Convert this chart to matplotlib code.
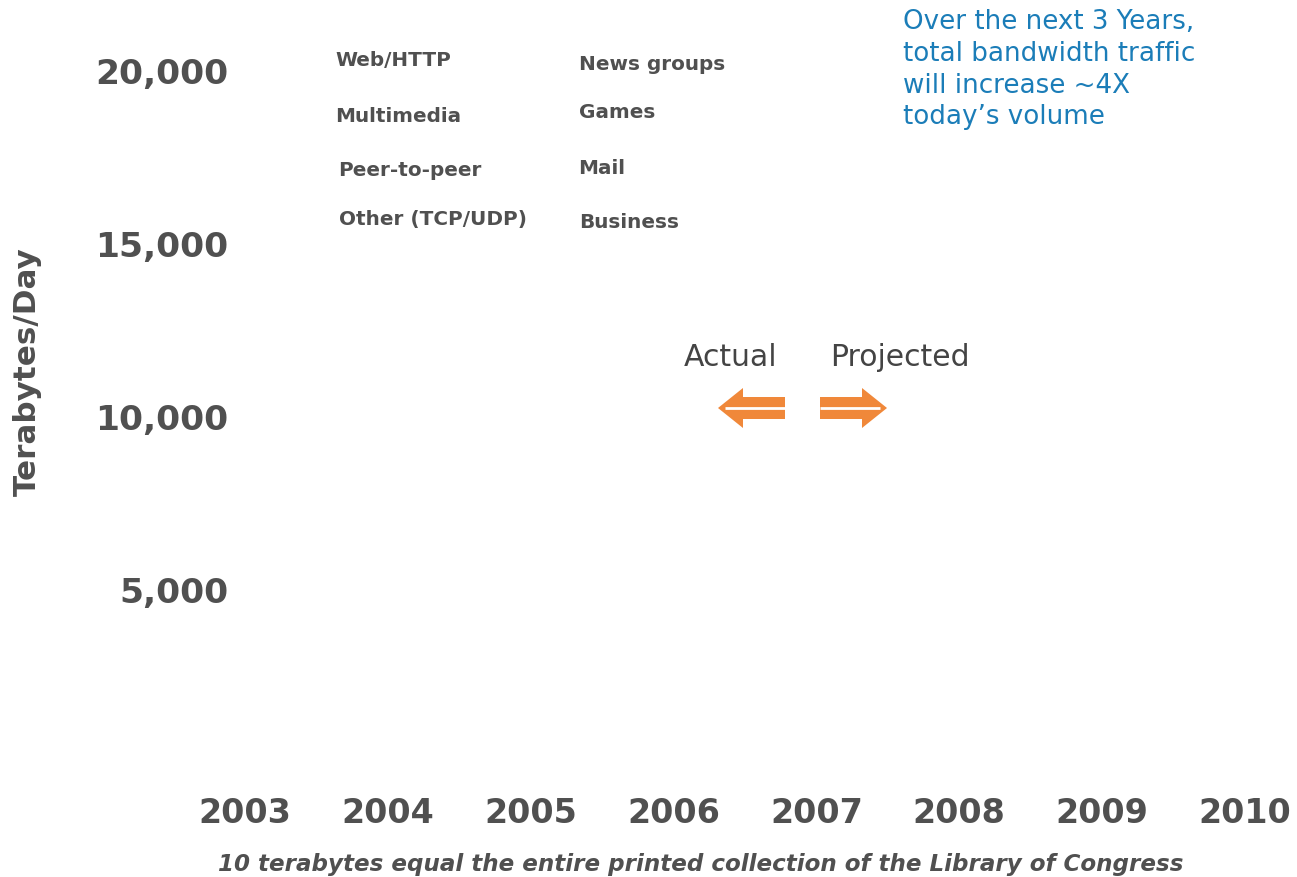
import matplotlib.pyplot as plt
from matplotlib.patches import FancyArrow

# chart data (the source chart shows only the frame: no series were drawn)
years = [2003, 2004, 2005, 2006, 2007, 2008, 2009, 2010]
y_ticks = [5000, 10000, 15000, 20000]
y_tick_labels = ["5,000", "10,000", "15,000", "20,000"]
legend_left = ["Web/HTTP", "Multimedia", "Peer-to-peer", "Other (TCP/UDP)"]
legend_right = ["News groups", "Games", "Mail", "Business"]
note = "Over the next 3 Years,\ntotal bandwidth traffic\nwill increase ~4X\ntoday\u2019s volume"
caption = "10 terabytes equal the entire printed collection of the Library of Congress"

grey = "#505050"
orange = "#F0883A"
blue = "#1B7DB8"

W, H = 1297, 877
fig = plt.figure(figsize=(W / 100, H / 100), dpi=100)
ax = fig.add_axes([245 / W, 1 - 763 / H, 1000 / W, 692 / H])
ax.set_xlim(years[0], years[-1])
ax.set_ylim(0, 20000)
for s in ax.spines.values():
    s.set_visible(False)

ax.set_xticks(years)
ax.set_xticklabels([str(y) for y in years], fontsize=24, fontweight="bold", color=grey)
ax.set_yticks(y_ticks)
ax.set_yticklabels(y_tick_labels, fontsize=24.8, fontweight="bold", color=grey)
ax.tick_params(axis="both", length=0)
ax.tick_params(axis="x", pad=24.5)
ax.tick_params(axis="y", pad=12)
ax.set_ylabel("Terabytes/Day", fontsize=22.3, fontweight="bold", color=grey)
ax.yaxis.set_label_coords(-0.203, (763 - 372) / 692)

# legend labels (no swatches in the original)
left_y = [60, 117, 170, 219]
right_y = [64, 113, 169, 222]
left_x = [335, 335, 338, 339]
right_x = [579, 579, 578, 579]
for lab, x, y in zip(legend_left, left_x, left_y):
    fig.text(x / W, 1 - y / H, lab, fontsize=14.4, fontweight="bold", color=grey, va="center")
for lab, x, y in zip(legend_right, right_x, right_y):
    fig.text(x / W, 1 - y / H, lab, fontsize=14.4, fontweight="bold", color=grey, va="center")

fig.text(903 / W, 1 - 9 / H, note, fontsize=18.8, color=blue, va="top", linespacing=1.29)

# actual / projected divider
fig.text(731 / W, 1 - 357 / H, "Actual", fontsize=21.5, color="#444444", ha="center", va="center")
fig.text(900 / W, 1 - 357 / H, "Projected", fontsize=21.5, color="#444444", ha="center", va="center")

def px_to_data(x, y):
    return (years[0] + (x - 245) / 1000 * (years[-1] - years[0]),
            (763 - y) / 692 * 20000)

for x0, x1 in [(785, 718), (820, 887)]:
    (dx0, dy), (dx1, _) = px_to_data(x0, 408), px_to_data(x1, 408)
    head = (25 / 1000) * (years[-1] - years[0])
    ax.add_patch(FancyArrow(dx0, dy, dx1 - dx0, 0, width=22 / 692 * 20000,
                            head_width=40 / 692 * 20000, head_length=head,
                            length_includes_head=True, color=orange, lw=0))
    tip = dx1 - (dx1 - dx0) * 0.1
    ax.plot([dx0, tip], [dy, dy], color="white", lw=2, solid_capstyle="butt")

fig.text(701 / W, 1 - 864 / H, caption, fontsize=16.6, fontweight="bold", style="italic",
         color=grey, ha="center", va="center")

fig.savefig("out.png", dpi=100)
